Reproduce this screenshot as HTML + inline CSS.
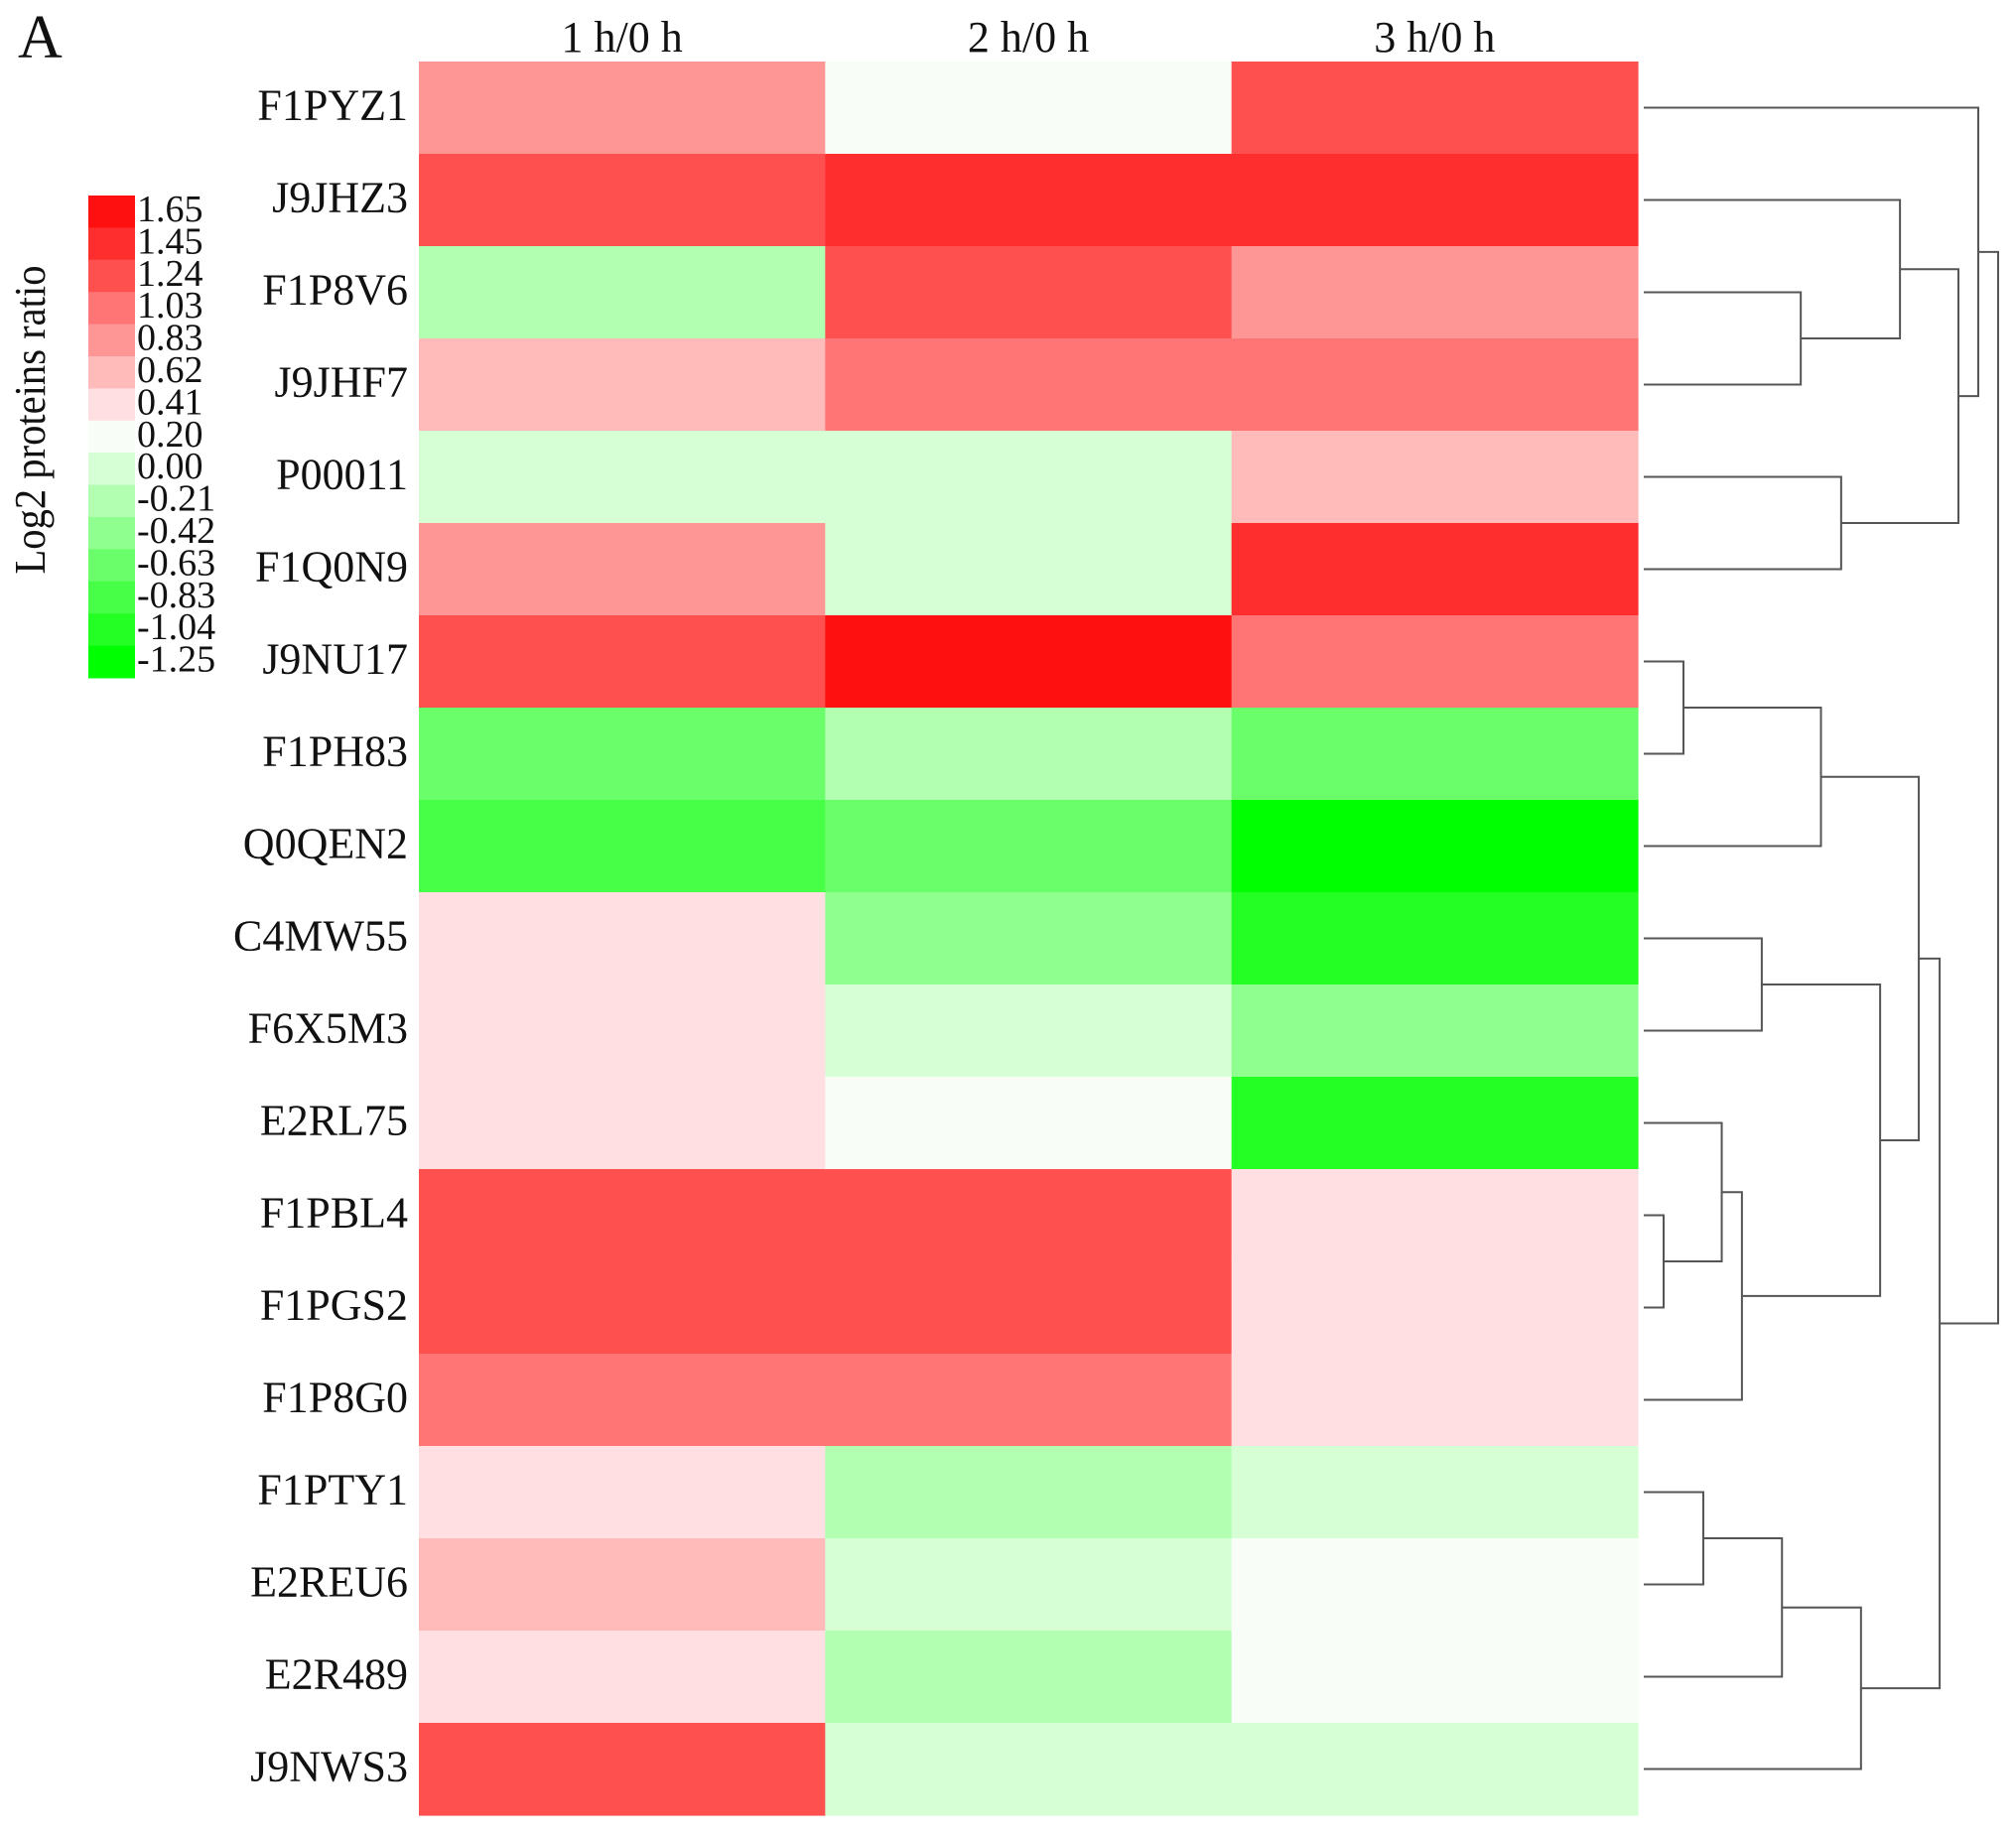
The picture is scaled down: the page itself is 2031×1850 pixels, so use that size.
<!DOCTYPE html>
<html><head><meta charset="utf-8">
<style>
html,body{margin:0;padding:0;background:#fff;}
svg{display:block;font-family:"Liberation Serif",serif;}
</style></head>
<body>
<svg id="chart" width="2031" height="1850" viewBox="0 0 2031 1850" xmlns="http://www.w3.org/2000/svg">
<text x="18" y="58" font-size="62" fill="#111">A</text>
<text transform="translate(45,423) rotate(-90)" text-anchor="middle" font-size="44" textLength="311" lengthAdjust="spacingAndGlyphs" fill="#111">Log2 proteins ratio</text>
<g id="legend"></g>
<g id="cells"></g>
<g id="rowlabels"></g>
<g id="collabels"></g>
<g id="dendro"></g>
</svg>
<script>
const legendValues = [1.65,1.45,1.24,1.03,0.83,0.62,0.41,0.20,0.00,-0.21,-0.42,-0.63,-0.83,-1.04,-1.25];
const legendLabels = ["1.65","1.45","1.24","1.03","0.83","0.62","0.41","0.20","0.00","-0.21","-0.42","-0.63","-0.83","-1.04","-1.25"];
const legendColors = ["#ff1010","#ff2e2e","#ff5050","#ff7474","#ff9696","#ffbaba","#ffdfe2","#f8fdf8","#d6ffd6","#b2ffb2","#8fff8f","#6aff6a","#47ff47","#24ff24","#00ff00"];
const columns = ["1 h/0 h","2 h/0 h","3 h/0 h"];
const proteins = ["F1PYZ1","J9JHZ3","F1P8V6","J9JHF7","P00011","F1Q0N9","J9NU17","F1PH83","Q0QEN2","C4MW55","F6X5M3","E2RL75","F1PBL4","F1PGS2","F1P8G0","F1PTY1","E2REU6","E2R489","J9NWS3"];
const col1 = [0.9,1.3,-0.3,0.7,0.05,0.9,1.3,-0.7,-0.9,0.5,0.5,0.5,1.3,1.3,1.1,0.5,0.7,0.5,1.3];
const col2 = [0.3,1.5,1.3,1.1,0.05,0.05,1.7,-0.3,-0.7,-0.5,0.05,0.3,1.3,1.3,1.1,-0.3,0.05,-0.3,0.05];
const col3 = [1.3,1.5,0.9,1.1,0.7,1.5,1.1,-0.7,-1.3,-1.1,-0.5,-1.1,0.5,0.5,0.5,0.05,0.3,0.3,0.05];
// dendrogram merges: [a, b, height]; negative = leaf index (-(i+1)), positive = merge number (1-based)
const mergeA = [-3, -2, -5, 2, -1, -7, 6, -10, -13, -12, 10, 8, 7, -16, 14, 15, 13, 5];
const mergeB = [-4, 1, -6, 3, 4, -8, -9, -11, -14, 9, -15, 11, 12, -17, -18, -19, 16, 17];
const mergeH = [44.3,72.3,55.7,88.8,94.4,11.2,50,33.3,5.6,22,27.7,66.7,77.6,16.8,39,61.3,83.5,100];

const NS="http://www.w3.org/2000/svg";
function mk(tag, attrs, parent){const e=document.createElementNS(NS,tag);for(const k in attrs)e.setAttribute(k,attrs[k]);parent.appendChild(e);return e;}
const X0=422, X1=1650, Y0=62, Y1=1829;
const colW=(X1-X0)/columns.length, rowH=(Y1-Y0)/proteins.length;
const xCol=i=>X0+i*colW, yRow=i=>Y0+i*rowH;
function colorFor(v){let bi=0,bd=1e9;legendValues.forEach((lv,i)=>{const d=Math.abs(lv-v);if(d<bd){bd=d;bi=i;}});return legendColors[bi];}

// legend
const lg=document.getElementById('legend');
const LY0=197, LH=(683-197)/legendValues.length;
legendValues.forEach((v,i)=>{
  const r=mk('rect',{x:89,y:LY0+i*LH,width:47,height:LH+0.5,fill:legendColors[i]},lg);
  
  
  const t=mk('text',{x:138,y:LY0+i*LH+26,'font-size':38,fill:'#111'},lg);
  t.textContent=legendLabels[i];
  
  
});

// cells
const cg=document.getElementById('cells');
const series=[col1,col2,col3];
series.forEach((s,c)=>{s.forEach((v,r)=>{
  const e=mk('rect',{x:xCol(c),y:yRow(r),width:colW+0.6,height:rowH+0.6,fill:colorFor(v)},cg);
  
  
});});

// row labels
const rl=document.getElementById('rowlabels');
proteins.forEach((p,i)=>{
  const t=mk('text',{x:411,y:yRow(i)+rowH/2+12,'text-anchor':'end','font-size':44,fill:'#111'},rl);
  t.textContent=p;
  
  
});
// column labels
const cl=document.getElementById('collabels');
columns.forEach((c,i)=>{
  const t=mk('text',{x:xCol(i)+colW/2,y:52,'text-anchor':'middle','font-size':44,fill:'#111'},cl);
  t.textContent=c;
  
  
});

// dendrogram
const dg=document.getElementById('dendro');
const LX=1656, K=3.57;
const xD=h=>LX+h*K;
const nodeY=[], nodeX=[];
function pos(id){ if(id<0){const i=-id-1;return [LX, yRow(i)+rowH/2];} return [nodeX[id-1],nodeY[id-1]]; }
mergeH.forEach((h,m)=>{
  const [xa,ya]=pos(mergeA[m]), [xb,yb]=pos(mergeB[m]);
  const x=xD(h);
  const p=mk('path',{d:`M${xa},${ya}H${x}V${yb}H${xb}`,fill:'none',stroke:'#555','stroke-width':2},dg);
  
  
  nodeX[m]=x; nodeY[m]=(ya+yb)/2;
});
</script>
</body></html>
